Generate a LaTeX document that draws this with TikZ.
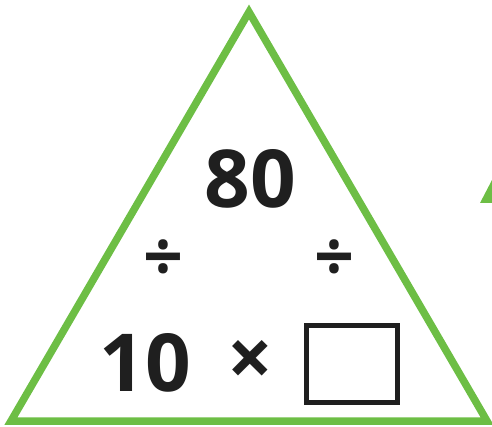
\documentclass[tikz,border=0pt]{standalone}
\usepackage{fontspec}
\setmainfont{Open Sans}
\definecolor{leafgreen}{HTML}{6DBE45}
\usetikzlibrary{positioning}

\begin{document}
\begin{tikzpicture}[x=1pt,y=-1pt,line join=miter,
  edge/.style={draw=leafgreen,line width=7.5pt},
  digits/.style={font=\fontsize{80}{84}\selectfont\bfseries,text=black!88,inner sep=0pt},
  sign/.style={font=\fontsize{70}{74}\selectfont\bfseries,text=black!88,inner sep=0pt}]
\useasboundingbox (0,0) rectangle (492,427);
% Fact triangle.
\draw[edge](249,12)--(487,421)--(11,421)--cycle;
% Edge of the next triangle.
\fill[leafgreen](480,203)--(492,180)--(492,203)--cycle;
% Numbers and signs.
\node[digits] (top) at (250,179) {80};
\node[sign] (divl) at (163,261) {÷};
\node[sign] (divr) at (334,261) {÷};
\node[digits] (left) at (145,363) {10};
\node[sign,font=\fontsize{80}{84}\selectfont\bfseries] (times) at (250,363) {×};
\node[draw=black!88,line width=5pt,minimum width=91pt,minimum height=77pt,inner sep=0pt]
  (blank) at (351.5,363.5) {};
\end{tikzpicture}
\end{document}
